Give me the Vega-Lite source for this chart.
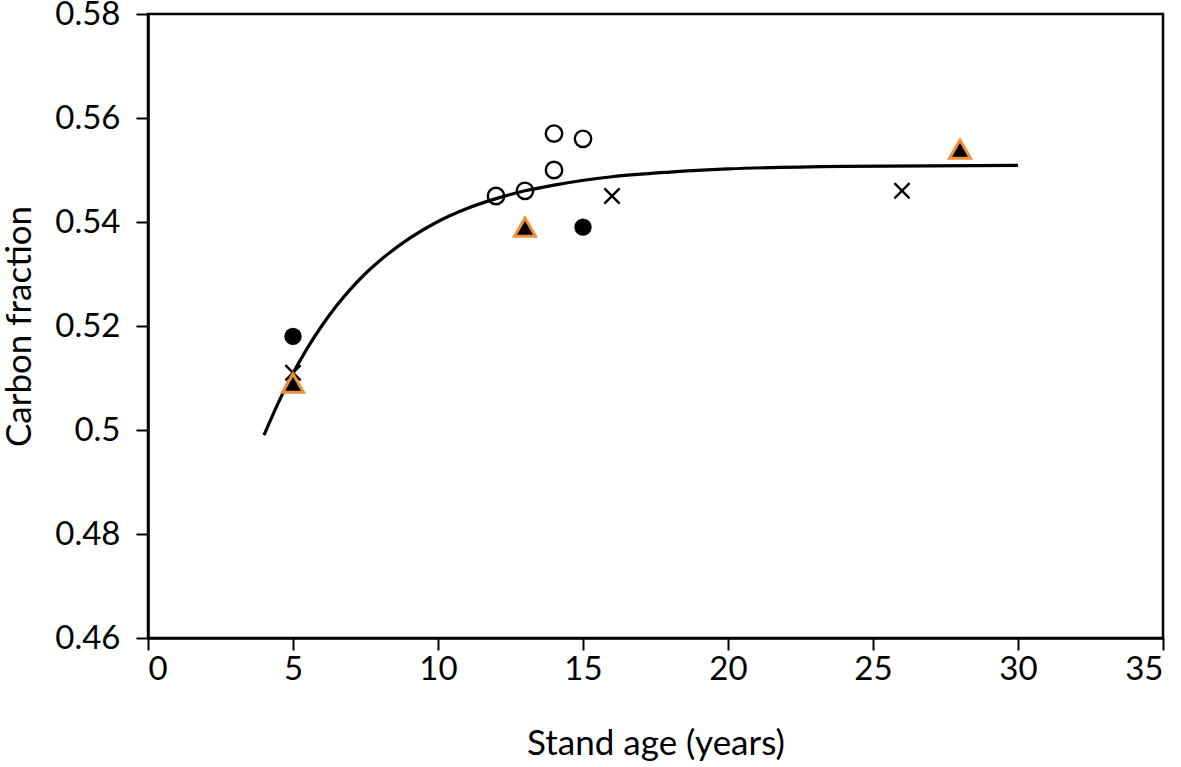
{
  "$schema": "https://vega.github.io/schema/vega-lite/v6.json",
  "width": 1015,
  "height": 624,
  "autosize": {"type": "none"},
  "padding": {"left": 148, "top": 14, "right": 18, "bottom": 129},
  "background": "white",
  "config": {
    "view": {"stroke": "black", "strokeWidth": 2.5},
    "font": "Lato",
    "axis": {
      "grid": false,
      "domainColor": "black",
      "domainWidth": 2.5,
      "tickColor": "black",
      "tickWidth": 2,
      "tickSize": 12,
      "labelFont": "Lato",
      "labelFontSize": 33,
      "labelColor": "black",
      "titleFont": "Lato",
      "titleFontSize": 35,
      "titleFontWeight": "normal",
      "titleColor": "black"
    }
  },
  "datasets": {
    "points": [
      {"age": 12, "cf": 0.545, "group": "open"},
      {"age": 13, "cf": 0.546, "group": "open"},
      {"age": 14, "cf": 0.557, "group": "open"},
      {"age": 14, "cf": 0.550, "group": "open"},
      {"age": 15, "cf": 0.556, "group": "open"},
      {"age": 5, "cf": 0.518, "group": "filled"},
      {"age": 15, "cf": 0.539, "group": "filled"},
      {"age": 5, "cf": 0.511, "group": "cross"},
      {"age": 16, "cf": 0.545, "group": "cross"},
      {"age": 26, "cf": 0.546, "group": "cross"},
      {"age": 5, "cf": 0.509, "group": "triangle"},
      {"age": 13, "cf": 0.539, "group": "triangle"},
      {"age": 28, "cf": 0.554, "group": "triangle"}
    ],
    "curve": [
      {"age": 4, "cf": 0.499},
      {"age": 4.5, "cf": 0.5053},
      {"age": 5, "cf": 0.5109},
      {"age": 5.5, "cf": 0.5158},
      {"age": 6, "cf": 0.5201},
      {"age": 6.5, "cf": 0.5239},
      {"age": 7, "cf": 0.5272},
      {"age": 7.5, "cf": 0.5301},
      {"age": 8, "cf": 0.5326},
      {"age": 9, "cf": 0.5368},
      {"age": 10, "cf": 0.5401},
      {"age": 11, "cf": 0.5426},
      {"age": 12, "cf": 0.5445},
      {"age": 13, "cf": 0.5460},
      {"age": 14, "cf": 0.5471},
      {"age": 16, "cf": 0.5487},
      {"age": 18, "cf": 0.5496},
      {"age": 20, "cf": 0.5502},
      {"age": 24, "cf": 0.5507},
      {"age": 30, "cf": 0.5509}
    ]
  },
  "encoding": {
    "x": {
      "field": "age", "type": "quantitative",
      "scale": {"domain": [0, 35], "nice": false, "zero": false},
      "axis": {"values": [0, 5, 10, 15, 20, 25, 30, 35], "title": "Stand age (years)", "labelPadding": 3, "titlePadding": 40}
    },
    "y": {
      "field": "cf", "type": "quantitative",
      "scale": {"domain": [0.46, 0.58], "nice": false, "zero": false},
      "axis": {"values": [0.46, 0.48, 0.5, 0.52, 0.54, 0.56, 0.58], "title": "Carbon fraction", "labelPadding": 16, "titlePadding": 17, "labelExpr": "datum.value == 0.5 ? '0.5' : format(datum.value, '.2f')"}
    }
  },
  "layer": [
    {
      "data": {"name": "curve"},
      "mark": {"type": "line", "color": "black", "strokeWidth": 3.2, "interpolate": "monotone"}
    },
    {
      "data": {"name": "points"},
      "transform": [{"filter": "datum.group == 'open'"}],
      "mark": {"type": "point", "shape": "circle", "size": 270, "filled": false, "stroke": "black", "strokeWidth": 2.4, "opacity": 1}
    },
    {
      "data": {"name": "points"},
      "transform": [{"filter": "datum.group == 'filled'"}],
      "mark": {"type": "point", "shape": "circle", "size": 300, "filled": true, "fill": "black", "opacity": 1}
    },
    {
      "data": {"name": "points"},
      "transform": [{"filter": "datum.group == 'cross'"}],
      "mark": {"type": "point", "shape": "M-1,-1L1,1M-1,1L1,-1", "size": 230, "filled": false, "stroke": "black", "strokeWidth": 2.4, "opacity": 1}
    },
    {
      "data": {"name": "points"},
      "transform": [{"filter": "datum.group == 'triangle'"}],
      "mark": {"type": "point", "shape": "triangle-up", "size": 440, "filled": true, "fill": "black", "stroke": "#f0913a", "strokeWidth": 3, "opacity": 1}
    }
  ]
}
